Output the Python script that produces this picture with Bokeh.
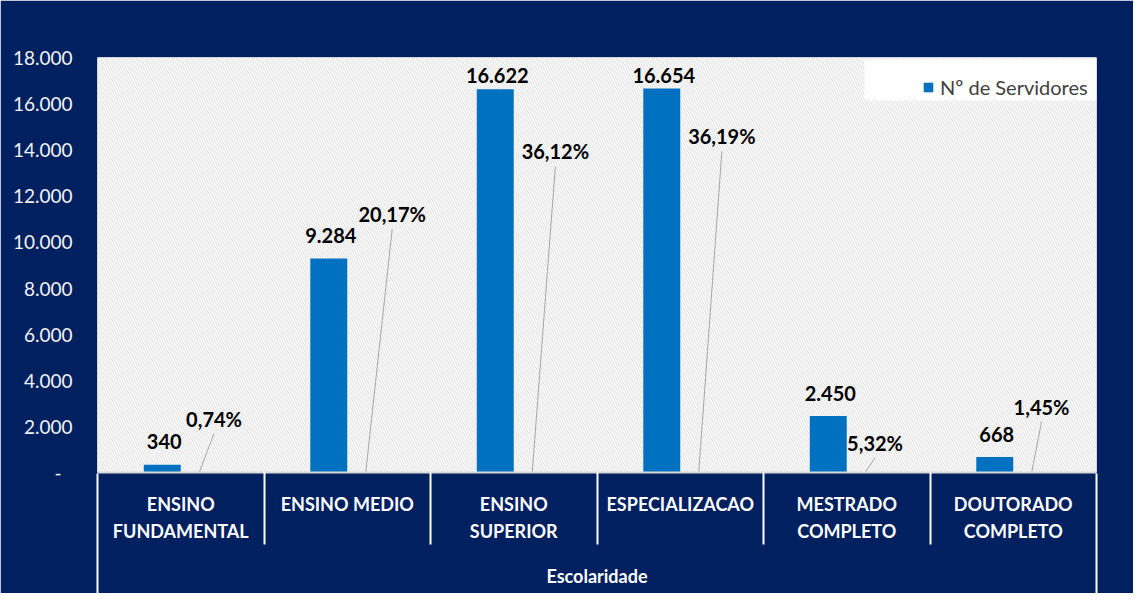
from bokeh.plotting import figure
from bokeh.models import (Range1d, LinearAxis, FixedTicker, BoxAnnotation, Legend,
                          LegendItem, ColumnDataSource)
from bokeh.core.properties import value
from bokeh.embed import file_html
from bokeh.resources import INLINE

# ---------------- data ----------------
categories = ["ENSINO\nFUNDAMENTAL", "ENSINO MEDIO", "ENSINO\nSUPERIOR",
              "ESPECIALIZACAO", "MESTRADO\nCOMPLETO", "DOUTORADO\nCOMPLETO"]
servidores = [340, 9284, 16622, 16654, 2450, 668]
percentuais = [0.74, 20.17, 36.12, 36.19, 5.32, 1.45]
y_ticks = [0, 2000, 4000, 6000, 8000, 10000, 12000, 14000, 16000, 18000]
y_tick_labels = ["-\u2007", "2.000", "4.000", "6.000", "8.000", "10.000",
                 "12.000", "14.000", "16.000", "18.000"]
series_name = "Nº de Servidores"
axis_title = "Escolaridade"

# manual placement of the percentage labels (as in the original chart)
pct_label_dx = [0.70, 0.77, 0.75, 0.75, 0.67, 0.67]
pct_label_y = [2340, 11200, 13930, 14580, 1300, 2860]

# ---------------- style ----------------
NAVY = "#002060"
BLUE = "#0070C0"
FONT = "Lato"
W, H = 1133, 593
BL, BR, BT, BB = 97, 37, 57, 120
FRAME_H = H - BT - BB
FRAME_W = W - BL - BR
Y_MAX = 18000
upp = Y_MAX / FRAME_H          # data units per pixel
bar_w = 0.222
bar_off = 0.111

p = figure(width=W, height=H, output_backend="svg", toolbar_location=None,
           x_range=Range1d(0, len(categories)), y_range=Range1d(0, Y_MAX),
           x_axis_type=None, y_axis_type=None,
           min_border_left=BL, min_border_right=BR, min_border_top=BT,
           min_border_bottom=BB)
p.border_fill_color = NAVY
p.background_fill_color = "white"
p.outline_line_color = None

# hatched plot area
p.add_layout(BoxAnnotation(fill_color="white", fill_alpha=1.0,
                           hatch_pattern="left_diagonal_line", hatch_color="#dcdcdc",
                           hatch_scale=5, hatch_weight=1, line_color=None, level="image"))

# grid
p.ygrid.visible = False
p.xgrid.ticker = FixedTicker(ticks=list(range(1, len(categories))))
p.xgrid.grid_line_color = "#d9d9d9"

# y axis
yax = LinearAxis(ticker=FixedTicker(ticks=y_ticks),
                 major_label_overrides={t: l for t, l in zip(y_ticks, y_tick_labels)})
yax.axis_line_color = None
yax.major_tick_line_color = None
yax.minor_tick_line_color = None
yax.major_tick_out = 0
yax.major_tick_in = 0
yax.major_label_standoff = 25
yax.major_label_text_font = FONT
yax.major_label_text_font_size = "19px"
yax.major_label_text_color = "#f2f2f2"
p.add_layout(yax, "left")

# x axis with the category labels and axis title
centers = [i + 0.5 for i in range(len(categories))]
xax = LinearAxis(ticker=FixedTicker(ticks=centers, minor_ticks=list(range(1, len(categories)))),
                 major_label_overrides={c: l for c, l in zip(centers, categories)},
                 axis_label=axis_title)
xax.axis_line_color = "#d9d9d9"
xax.axis_line_width = 2
xax.major_tick_line_color = None
xax.major_tick_out = 0
xax.major_tick_in = 0
xax.minor_tick_line_color = "white"
xax.minor_tick_line_width = 2
xax.minor_tick_out = 0
xax.minor_tick_in = -72
xax.major_label_standoff = 20
xax.major_label_text_font = FONT
xax.major_label_text_font_style = "bold"
xax.major_label_text_font_size = "18px"
xax.major_label_text_line_height = 1.23
xax.major_label_text_color = "white"
xax.axis_label_standoff = 20
xax.axis_label_text_font = FONT
xax.axis_label_text_font_style = "bold"
xax.axis_label_text_font_size = "18px"
xax.axis_label_text_color = "white"
p.add_layout(xax, "below")

# second x axis: the outer border lines of the category band
xax2 = LinearAxis(ticker=FixedTicker(ticks=[], minor_ticks=[0, len(categories)]))
xax2.axis_line_color = None
xax2.major_tick_line_color = None
xax2.major_tick_out = 0
xax2.major_tick_in = 0
xax2.major_label_text_font_size = "0px"
xax2.minor_tick_line_color = "white"
xax2.minor_tick_line_width = 2
xax2.minor_tick_in = 116
xax2.minor_tick_out = 4
p.add_layout(xax2, "below")

# bars
src = ColumnDataSource(dict(
    x=[i + 0.5 - bar_off for i in range(len(categories))],
    top=servidores,
    lab=[f"{v:,}".replace(",", ".") for v in servidores],
    ly=[min(v + 23 * upp, Y_MAX - 18 * upp) for v in servidores],
))
bars = p.vbar(x="x", top="top", width=bar_w, bottom=0, source=src,
              fill_color=BLUE, line_color=None)
p.text(x="x", y="ly", text="lab", source=src, x_offset=2,
       text_align="center", text_baseline="middle", text_font=value(FONT),
       text_font_style="bold", text_font_size="20px", text_color="black")

# percentage labels with leader lines
psrc = ColumnDataSource(dict(
    x=[i + dx for i, dx in enumerate(pct_label_dx)],
    y=pct_label_y,
    y0=[y - 15 * upp for y in pct_label_y],
    x1=[i + 0.5 + bar_off for i in range(len(categories))],
    y1=[0] * len(categories),
    lab=[f"{v:.2f}%".replace(".", ",") for v in percentuais],
))
p.segment(x0="x", y0="y0", x1="x1", y1="y1", source=psrc,
          line_color="#a6a6a6", line_width=1)
p.text(x="x", y="y", text="lab", source=psrc,
       text_align="center", text_baseline="middle", text_font=value(FONT),
       text_font_style="bold", text_font_size="20px", text_color="black")

# legend with white box (part inside the frame + legend background beyond it)
p.add_layout(BoxAnnotation(left=864, right=W - BR, top=59, bottom=100,
                           left_units="canvas", right_units="canvas",
                           top_units="canvas", bottom_units="canvas",
                           fill_color="white", fill_alpha=1.0, line_color=None))
legend = Legend(items=[LegendItem(label=series_name, renderers=[bars])],
                location=(922 - BL, H - BB - 100), padding=9, margin=0, spacing=0,
                glyph_width=12, glyph_height=12, label_standoff=6, label_width=175,
                background_fill_color="white", background_fill_alpha=1.0,
                border_line_color=None,
                label_text_font=FONT, label_text_font_size="20px",
                label_text_color="#404040")
p.add_layout(legend)

open("out.html", "w").write(file_html(p, INLINE))
